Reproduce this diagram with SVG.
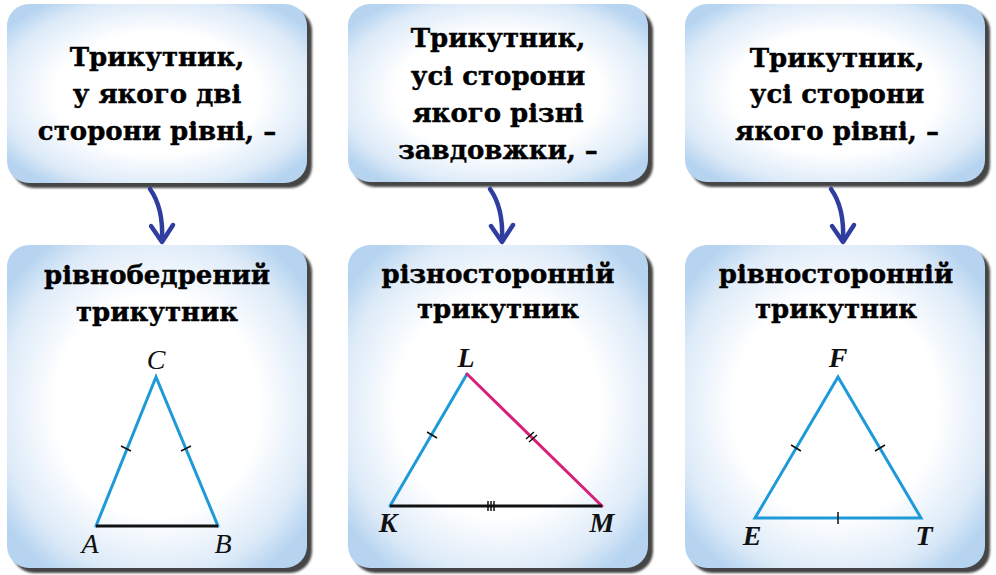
<svg xmlns="http://www.w3.org/2000/svg" width="996" height="575" viewBox="0 0 996 575">
<defs>
<radialGradient id="bg" cx="0.5" cy="0.5" r="0.62">
<stop offset="0" stop-color="#ffffff"/>
<stop offset="0.55" stop-color="#ffffff"/>
<stop offset="0.85" stop-color="#dceaf8"/>
<stop offset="1" stop-color="#b6d4f0"/>
</radialGradient>
<filter id="sh" x="-5%" y="-5%" width="115%" height="115%">
<feGaussianBlur stdDeviation="1"/>
</filter>
</defs>
<style>
.shadow{fill:#454545;filter:url(#sh)}
.box{fill:url(#bg)}
.t{font-family:"DejaVu Serif","Liberation Serif",serif;font-weight:bold;font-size:26px;fill:#000;stroke:#000;stroke-width:0.4;text-anchor:middle}
.lbl{font-family:"Liberation Serif","DejaVu Serif",serif;font-style:italic;font-size:28px;fill:#111;text-anchor:middle}
.lb{font-weight:bold}
.blue{stroke:#1e9ad8;stroke-width:3;fill:none;stroke-linecap:round}
.pink{stroke:#d8207a;stroke-width:3;fill:none;stroke-linecap:round}
.blk{stroke:#111;stroke-width:3;fill:none}
.tick{stroke:#111;stroke-width:1.5;fill:none}
.arr{stroke:#2f3e9e;stroke-width:4.5;fill:none;stroke-linecap:round;stroke-linejoin:round}
</style>

<g id="top1">
<rect class="shadow" x="12" y="9" width="300" height="179" rx="22"/>
<rect class="box" x="7" y="4" width="300" height="179" rx="22"/>
<text class="t" x="157" y="66">Трикутник,</text>
<text class="t" x="157" y="103">у якого дві</text>
<text class="t" x="157" y="140">сторони  рівні,  –</text>
</g>
<g id="top2">
<rect class="shadow" x="353" y="9" width="300" height="178" rx="22"/>
<rect class="box" x="348" y="4" width="300" height="178" rx="22"/>
<text class="t" x="498" y="47">Трикутник,</text>
<text class="t" x="498" y="85">усі сторони</text>
<text class="t" x="498" y="122">якого  різні</text>
<text class="t" x="498" y="159">завдовжки,  –</text>
</g>
<g id="top3">
<rect class="shadow" x="690" y="9" width="300" height="178" rx="22"/>
<rect class="box" x="685" y="4" width="300" height="178" rx="22"/>
<text class="t" x="837" y="67">Трикутник,</text>
<text class="t" x="837" y="103">усі сторони</text>
<text class="t" x="837" y="140">якого  рівні,  –</text>
</g>

<g id="connectors">
<path class="arr" d="M150,189 C160,203 163,220 162,240"/>
<path class="arr" d="M151,226 L162,242 L173,225"/>
<path class="arr" d="M490,189 C500,203 503,220 502,240"/>
<path class="arr" d="M491,226 L502,242 L513,225"/>
<path class="arr" d="M831,189 C841,203 844,220 843,240"/>
<path class="arr" d="M832,226 L843,242 L854,225"/>
</g>

<g id="bot1">
<rect class="shadow" x="12" y="250" width="300" height="323" rx="22"/>
<rect class="box" x="7" y="245" width="300" height="323" rx="22"/>
<text class="t" x="157" y="284">рівнобедрений</text>
<text class="t" x="157" y="321">трикутник</text>
<path class="blue" d="M96,526 L156,377 L218,526"/>
<path class="blk" d="M96,526 L218,526"/>
<path class="tick" d="M121,446 L131,451 M181,451 L191,446"/>
<text class="lbl" x="156" y="369">C</text>
<text class="lbl" x="90" y="553">A</text>
<text class="lbl" x="223" y="553">B</text>
</g>
<g id="bot2">
<rect class="shadow" x="353" y="250" width="300" height="323" rx="22"/>
<rect class="box" x="348" y="245" width="300" height="323" rx="22"/>
<text class="t" x="498" y="283">різносторонній</text>
<text class="t" x="498" y="318">трикутник</text>
<path class="blue" d="M390,506 L467,374"/>
<path class="pink" d="M467,374 L602,506"/>
<path class="blk" d="M390,506 L602,506"/>
<path class="tick" d="M427,432 L437,438 M526,439 L534,432 M529,442 L537,435 M488,501 L488,511 M491,501 L491,511 M494,501 L494,511"/>
<text class="lbl lb" x="466" y="367">L</text>
<text class="lbl lb" x="388" y="532">K</text>
<text class="lbl lb" x="602" y="532">M</text>
</g>
<g id="bot3">
<rect class="shadow" x="690" y="250" width="300" height="323" rx="22"/>
<rect class="box" x="685" y="245" width="300" height="323" rx="22"/>
<text class="t" x="836" y="283">рівносторонній</text>
<text class="t" x="836" y="318">трикутник</text>
<path class="blue" d="M755,518 L838,377 L921,518 Z"/>
<path class="tick" d="M791,445 L801,451 M875,451 L885,445 M838,512 L838,524"/>
<text class="lbl lb" x="838" y="367">F</text>
<text class="lbl lb" x="752" y="545">E</text>
<text class="lbl lb" x="924" y="545">T</text>
</g>
</svg>
